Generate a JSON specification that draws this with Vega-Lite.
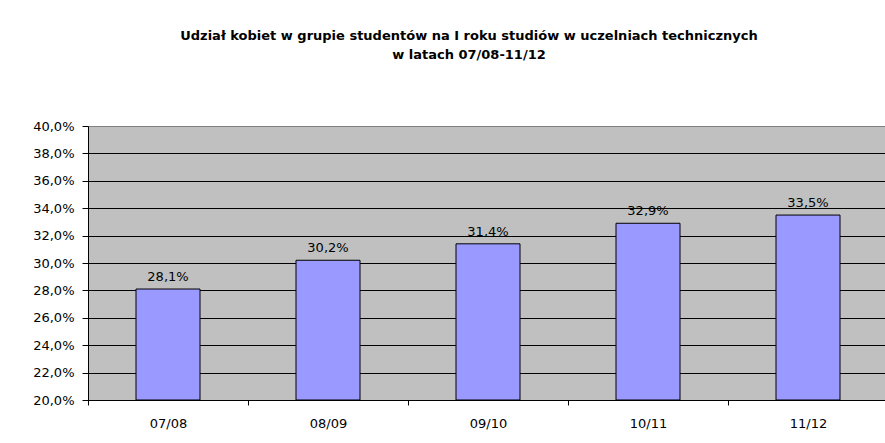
{
  "$schema": "https://vega.github.io/schema/vega-lite/v6.json",
  "width": 800,
  "height": 274,
  "autosize": {"type": "none"},
  "padding": {"left": 88, "top": 126, "right": 0, "bottom": 43},
  "background": "white",
  "title": {
    "text": ["Udział kobiet w grupie studentów na I roku studiów w uczelniach technicznych", "w latach 07/08-11/12"],
    "font": "DejaVu Sans",
    "fontSize": 13,
    "fontWeight": "bold",
    "color": "black",
    "lineHeight": 19,
    "anchor": "middle",
    "dx": -19,
    "offset": 58
  },
  "data": {
    "values": [
      {"rok": "07/08", "udzial": 0.281},
      {"rok": "08/09", "udzial": 0.302},
      {"rok": "09/10", "udzial": 0.314},
      {"rok": "10/11", "udzial": 0.329},
      {"rok": "11/12", "udzial": 0.335}
    ]
  },
  "encoding": {
    "x": {
      "field": "rok",
      "type": "nominal",
      "sort": null,
      "scale": {"paddingInner": 0.6, "paddingOuter": 0.3},
      "axis": {
        "title": null,
        "labelAngle": 0,
        "labelFont": "DejaVu Sans",
        "labelFontSize": 13,
        "labelColor": "black",
        "labelPadding": 12,
        "domainColor": "black",
        "tickColor": "black",
        "tickSize": 5,
        "tickOffset": -80,
        "labelOffset": 80,
        "grid": false
      }
    },
    "y": {
      "field": "udzial",
      "type": "quantitative",
      "scale": {"domain": [0.2, 0.4], "zero": false},
      "axis": {
        "title": null,
        "values": [0.2, 0.22, 0.24, 0.26, 0.28, 0.3, 0.32, 0.34, 0.36, 0.38, 0.4],
        "format": ".1%",
        "labelFont": "DejaVu Sans",
        "labelFontSize": 13,
        "labelColor": "black",
        "labelPadding": 8,
        "domainColor": "black",
        "tickColor": "black",
        "tickSize": 6,
        "grid": true,
        "gridColor": {"condition": {"test": "datum.value >= 0.4", "value": "#808080"}, "value": "black"},
        "gridOpacity": 1,
        "gridWidth": 1
      }
    }
  },
  "layer": [
    {
      "mark": {"type": "bar", "fill": "#9999FF", "stroke": "black", "strokeWidth": 1},
      "encoding": {"y2": {"datum": 0.2}}
    },
    {
      "mark": {"type": "text", "baseline": "alphabetic", "dy": -8, "font": "DejaVu Sans", "fontSize": 13, "color": "black"},
      "encoding": {
        "text": {"field": "udzial", "type": "quantitative", "format": ".1%"}
      }
    }
  ],
  "config": {
    "locale": {"number": {"decimal": ",", "thousands": " ", "grouping": [3], "currency": ["", " zł"]}},
    "view": {"fill": "#C0C0C0", "stroke": "#808080", "strokeWidth": 1}
  }
}
